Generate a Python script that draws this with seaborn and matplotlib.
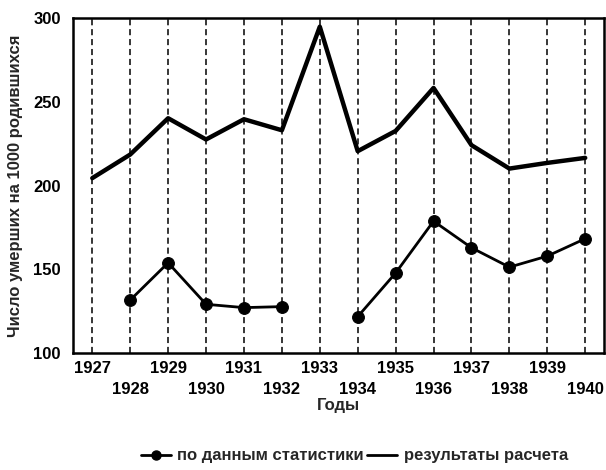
import numpy as np
import pandas as pd
import matplotlib
matplotlib.use("Agg")
import matplotlib.pyplot as plt
from matplotlib.lines import Line2D
import seaborn as sns

years = list(range(1927, 1941))
calc_values = [204.5, 218.6, 240.3, 227.6, 239.7, 233.1, 295.0,
               220.6, 232.7, 258.4, 224.2, 210.2, 213.6, 216.6]
stat_values = [None, 131.6, 153.9, 129.1, 127.1, 127.7, None,
               121.7, 147.8, 178.8, 162.9, 151.3, 157.9, 168.3]
y_ticks = [100, 150, 200, 250, 300]
label_stat = "по данным статистики"
label_calc = "результаты расчета"
x_label = "Годы"
y_label = "Число умерших на 1000 родившихся"

sns.set_style("white")
plt.rcParams["font.family"] = ["Liberation Sans Narrow", "Liberation Sans", "DejaVu Sans"]
plt.rcParams["font.weight"] = "bold"

fig = plt.figure(figsize=(6.06, 4.70), dpi=100)
ax = fig.add_axes([0.121, 0.249, 0.876, 0.712])

# vertical dashed guide lines
for yr in years:
    ax.axvline(yr, color="black", linestyle=(0, (4, 2.5)), linewidth=1.1, zorder=1)

calc_df = pd.DataFrame({"year": years, "value": calc_values})
sns.lineplot(data=calc_df, x="year", y="value", ax=ax, color="black",
             linewidth=3.2, estimator=None, zorder=3)

# statistics with gap in 1933
seg = []
s = 0
for v in stat_values:
    if v is None:
        s += 1
    seg.append(s)
stat_df = pd.DataFrame({"year": years, "value": stat_values, "seg": seg}).dropna()
stat_df["value"] = stat_df["value"].astype(float)
sns.lineplot(data=stat_df, x="year", y="value", units="seg", estimator=None, ax=ax,
             color="black", linewidth=2.0, marker="o", markersize=8.5,
             markeredgecolor="black", zorder=4)

ax.set_xlim(1926.5, 1940.5)
ax.set_ylim(100, 300)
ax.set_yticks(y_ticks)
ax.set_yticklabels([str(t) for t in y_ticks], fontsize=12, fontweight="bold")
ax.set_xticks(years)
ax.set_xticklabels([str(y) if y % 2 == 1 else "\n" + str(y) for y in years],
                   fontsize=12, fontweight="bold", linespacing=1.45)
ax.tick_params(axis="x", direction="inout", length=6, width=1, pad=3, colors="black")
ax.tick_params(axis="y", length=0, pad=9, colors="black")
for sp in ax.spines.values():
    sp.set_visible(True)
    sp.set_color("black")
    sp.set_linewidth(1.8)

ax.set_xlabel(x_label, fontsize=12, fontweight="bold", labelpad=1)
ax.set_ylabel(y_label, fontsize=12, fontweight="bold", labelpad=7)

handles = [Line2D([], [], color="black", linewidth=2.0, marker="o", markersize=6.5),
           Line2D([], [], color="black", linewidth=2.0)]
fig.legend(handles, [label_stat, label_calc], loc="center", bbox_to_anchor=(0.585, 0.03),
           ncol=2, frameon=False, prop={"size": 12, "weight": "bold"},
           handlelength=1.8, handletextpad=0.4, columnspacing=0.2)

fig.savefig("out.png", dpi=100)
